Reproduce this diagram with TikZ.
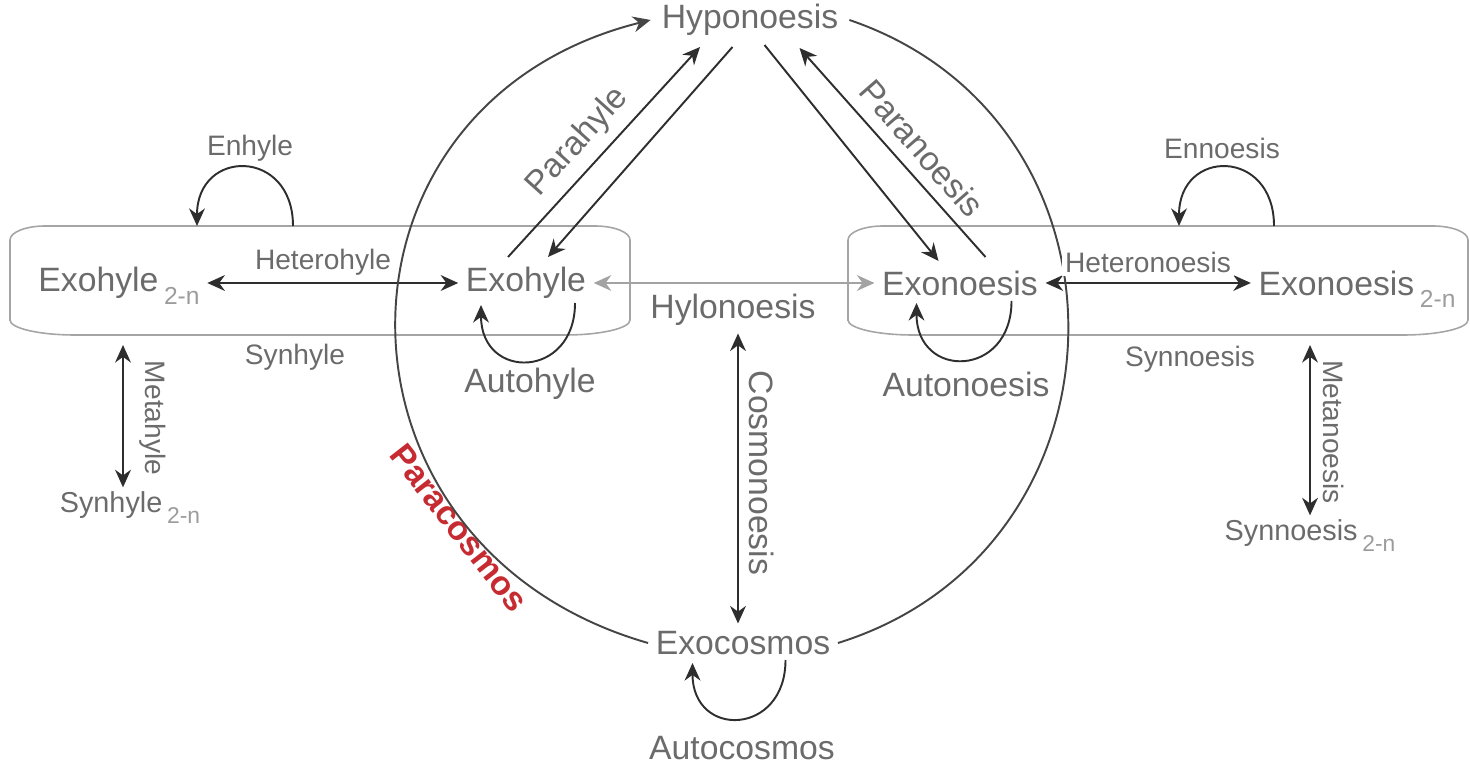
\documentclass[tikz,border=0pt]{standalone}
\usepackage{fontspec}
\setmainfont{Liberation Sans}
\usetikzlibrary{positioning, arrows.meta}
\definecolor{termgray}{HTML}{6B6B6B}
\definecolor{subgray}{HTML}{9C9C9C}
\definecolor{linegray}{HTML}{2E2E2E}
\definecolor{arcgray}{HTML}{454545}
\definecolor{framegray}{HTML}{A5A5A5}
\definecolor{linkgray}{HTML}{A3A3A3}
\definecolor{parared}{HTML}{C62B31}
\newcommand{\twon}[1][7]{\,\raisebox{-0.7ex}[0pt][0pt]{\fontsize{#1}{#1}\selectfont\color{subgray}2-n}}
\tikzset{
  termnode/.style={text=termgray, font=\fontsize{9.6}{11}\selectfont, inner sep=2pt},
  relnode/.style={text=termgray, font=\fontsize{8}{10}\selectfont, inner sep=1pt},
  linkline/.style={draw=linegray, line width=0.55pt, >={Stealth[length=5pt,width=4.5pt]}},
  framebox/.style={draw=framegray, line width=0.45pt},
}

\begin{document}
\begin{tikzpicture}
\useasboundingbox (0,0) rectangle (14.7,7.65);
% frames
\draw[framebox] (0.10,4.45) -- (0.10,5.25) arc[start angle=180,end angle=90,x radius=0.35,y radius=0.14] -- (5.95,5.39) arc[start angle=90,end angle=0,x radius=0.35,y radius=0.14] -- (6.30,4.45) arc[start angle=0,end angle=-90,x radius=0.65,y radius=0.15] -- (0.75,4.30) arc[start angle=270,end angle=180,x radius=0.65,y radius=0.15] -- cycle;
\begin{scope}[shift={(8.38,0)}]
  \draw[framebox] (0.10,4.45) -- (0.10,5.25) arc[start angle=180,end angle=90,x radius=0.35,y radius=0.14] -- (5.95,5.39) arc[start angle=90,end angle=0,x radius=0.35,y radius=0.14] -- (6.30,4.45) arc[start angle=0,end angle=-90,x radius=0.65,y radius=0.15] -- (0.75,4.30) arc[start angle=270,end angle=180,x radius=0.65,y radius=0.15] -- cycle;
\end{scope}

% terms
\node[termnode, inner sep=3pt] (hypo) at (7.50,7.45) {Hyponoesis};
\node[termnode] (exohyleN) at (1.19,4.82) {Exohyle\twon};
\node[termnode] (exohyle) at (5.26,4.82) {Exohyle};
\node[termnode] (exonoesis) at (9.60,4.82) {Exonoesis};
\node[termnode] (exonoesisN) at (13.57,4.82) {Exonoesis\twon};
\node[termnode] (hylonoesis) at (7.33,4.55) {Hylonoesis};
\node[termnode] (exocosmos) at (7.43,1.22) {Exocosmos};
\node[termnode] (autocosmos) at (7.42,0.17) {Autocosmos};
\node[termnode] (autohyle) at (5.30,3.81) {Autohyle};
\node[termnode] (autonoesis) at (9.66,3.81) {Autonoesis};
\node[termnode, rotate=-90] (cosmonoesis) at (7.62,2.92) {Cosmonoesis};
\node[termnode, rotate=48] (parahyle) at (5.78,6.23) {Parahyle};
\node[termnode, rotate=-49] (paranoesis) at (9.22,6.17) {Paranoesis};
\node[termnode, text=parared, font=\bfseries\fontsize{9.6}{11}\selectfont, rotate=-52] (paracosmos) at (4.59,2.37) {Paracosmos};

% relations
\node[relnode] (enhyle) at (2.50,6.17) {Enhyle};
\node[relnode] (ennoesis) at (12.22,6.17) {Ennoesis};
\node[relnode] (heterohyle) at (3.23,5.03) {Heterohyle};
\node[relnode] (synhyle) at (2.95,4.08) {Synhyle};
\node[relnode] (synnoesis) at (11.90,4.06) {Synnoesis};
\node[relnode, rotate=-90] (metahyle) at (1.53,3.47) {Metahyle};
\node[relnode, rotate=-90] (metanoesis) at (13.34,3.33) {Metanoesis};
\node[relnode, font=\fontsize{8.2}{10}\selectfont] (synhyleN) at (1.30,2.60) {Synhyle\twon[6.5]};
\node[relnode, font=\fontsize{8.2}{10}\selectfont] (synnoesisN) at (13.10,2.32) {Synnoesis\twon[6.5]};

% horizontal and vertical links
\draw[linkline,<->] (exohyleN) -- (exohyle);
\draw[linkline,<->,draw=linkgray] (exohyle) -- (exonoesis);
\draw[linkline,<->] (exonoesis) -- (exonoesisN);
\draw[linkline,<->] ([xshift=0.05cm]hylonoesis.south) -- ([xshift=-0.05cm]exocosmos.north);
\coordinate (metahyleTop) at (1.23,4.20);
\draw[linkline,<->] (metahyleTop) -- (metahyleTop |- synhyleN.north);
\coordinate (metanoesisTop) at (13.10,4.20);
\draw[linkline,<->] (metanoesisTop) -- (metanoesisTop |- synnoesisN.north);

% links to Hyponoesis
\draw[linkline,->] ([shift={(-0.18,0.26)}]exohyle.center) -- ([shift={(-0.50,-0.27)}]hypo.center);
\draw[linkline,->] ([shift={(-0.175,-0.27)}]hypo.center) -- ([shift={(0.22,0.26)}]exohyle.center);
\draw[linkline,->] ([shift={(0.145,-0.25)}]hypo.center) -- ([shift={(-0.215,0.22)}]exonoesis.center);
\draw[linkline,->] ([shift={(0.255,0.26)}]exonoesis.center) -- ([shift={(0.495,-0.28)}]hypo.center);

% loops
\coordinate (enhyleA) at (2.93,5.39);
\coordinate (enhyleB) at (1.97,5.39);
\draw[linkline,->] (enhyleA) .. controls +(90:0.78) and +(90:0.78) .. (enhyleB);
\coordinate (ennoesisA) at (12.74,5.39);
\coordinate (ennoesisB) at (11.79,5.39);
\draw[linkline,->] (ennoesisA) .. controls +(90:0.78) and +(90:0.78) .. (ennoesisB);
\draw[linkline,->] ([shift={(0.49,-0.20)}]exohyle.center) .. controls +(-90:0.76) and +(-90:0.76) .. ([shift={(-0.45,-0.22)}]exohyle.center);
\draw[linkline,->] ([shift={(0.515,-0.18)}]exonoesis.center) .. controls +(-90:0.77) and +(-90:0.77) .. ([shift={(-0.435,-0.20)}]exonoesis.center);
\draw[linkline,->] ([shift={(0.425,-0.17)}]exocosmos.center) .. controls +(-90:0.76) and +(-90:0.76) .. ([shift={(-0.505,-0.20)}]exocosmos.center);

% the cosmos arcs
\draw[linkline,draw=arcgray,->] (exocosmos.west) .. controls +(164:3.49) and +(194:3.49) .. (hypo.west);
\draw[linkline,draw=arcgray] (hypo.east) .. controls +(-18.8:3.15) and +(17.3:3.15) .. (exocosmos.east);
\node[relnode, fill=white] (heteronoesis) at (11.48,5.03) {Heteronoesis};
\end{tikzpicture}
\end{document}
